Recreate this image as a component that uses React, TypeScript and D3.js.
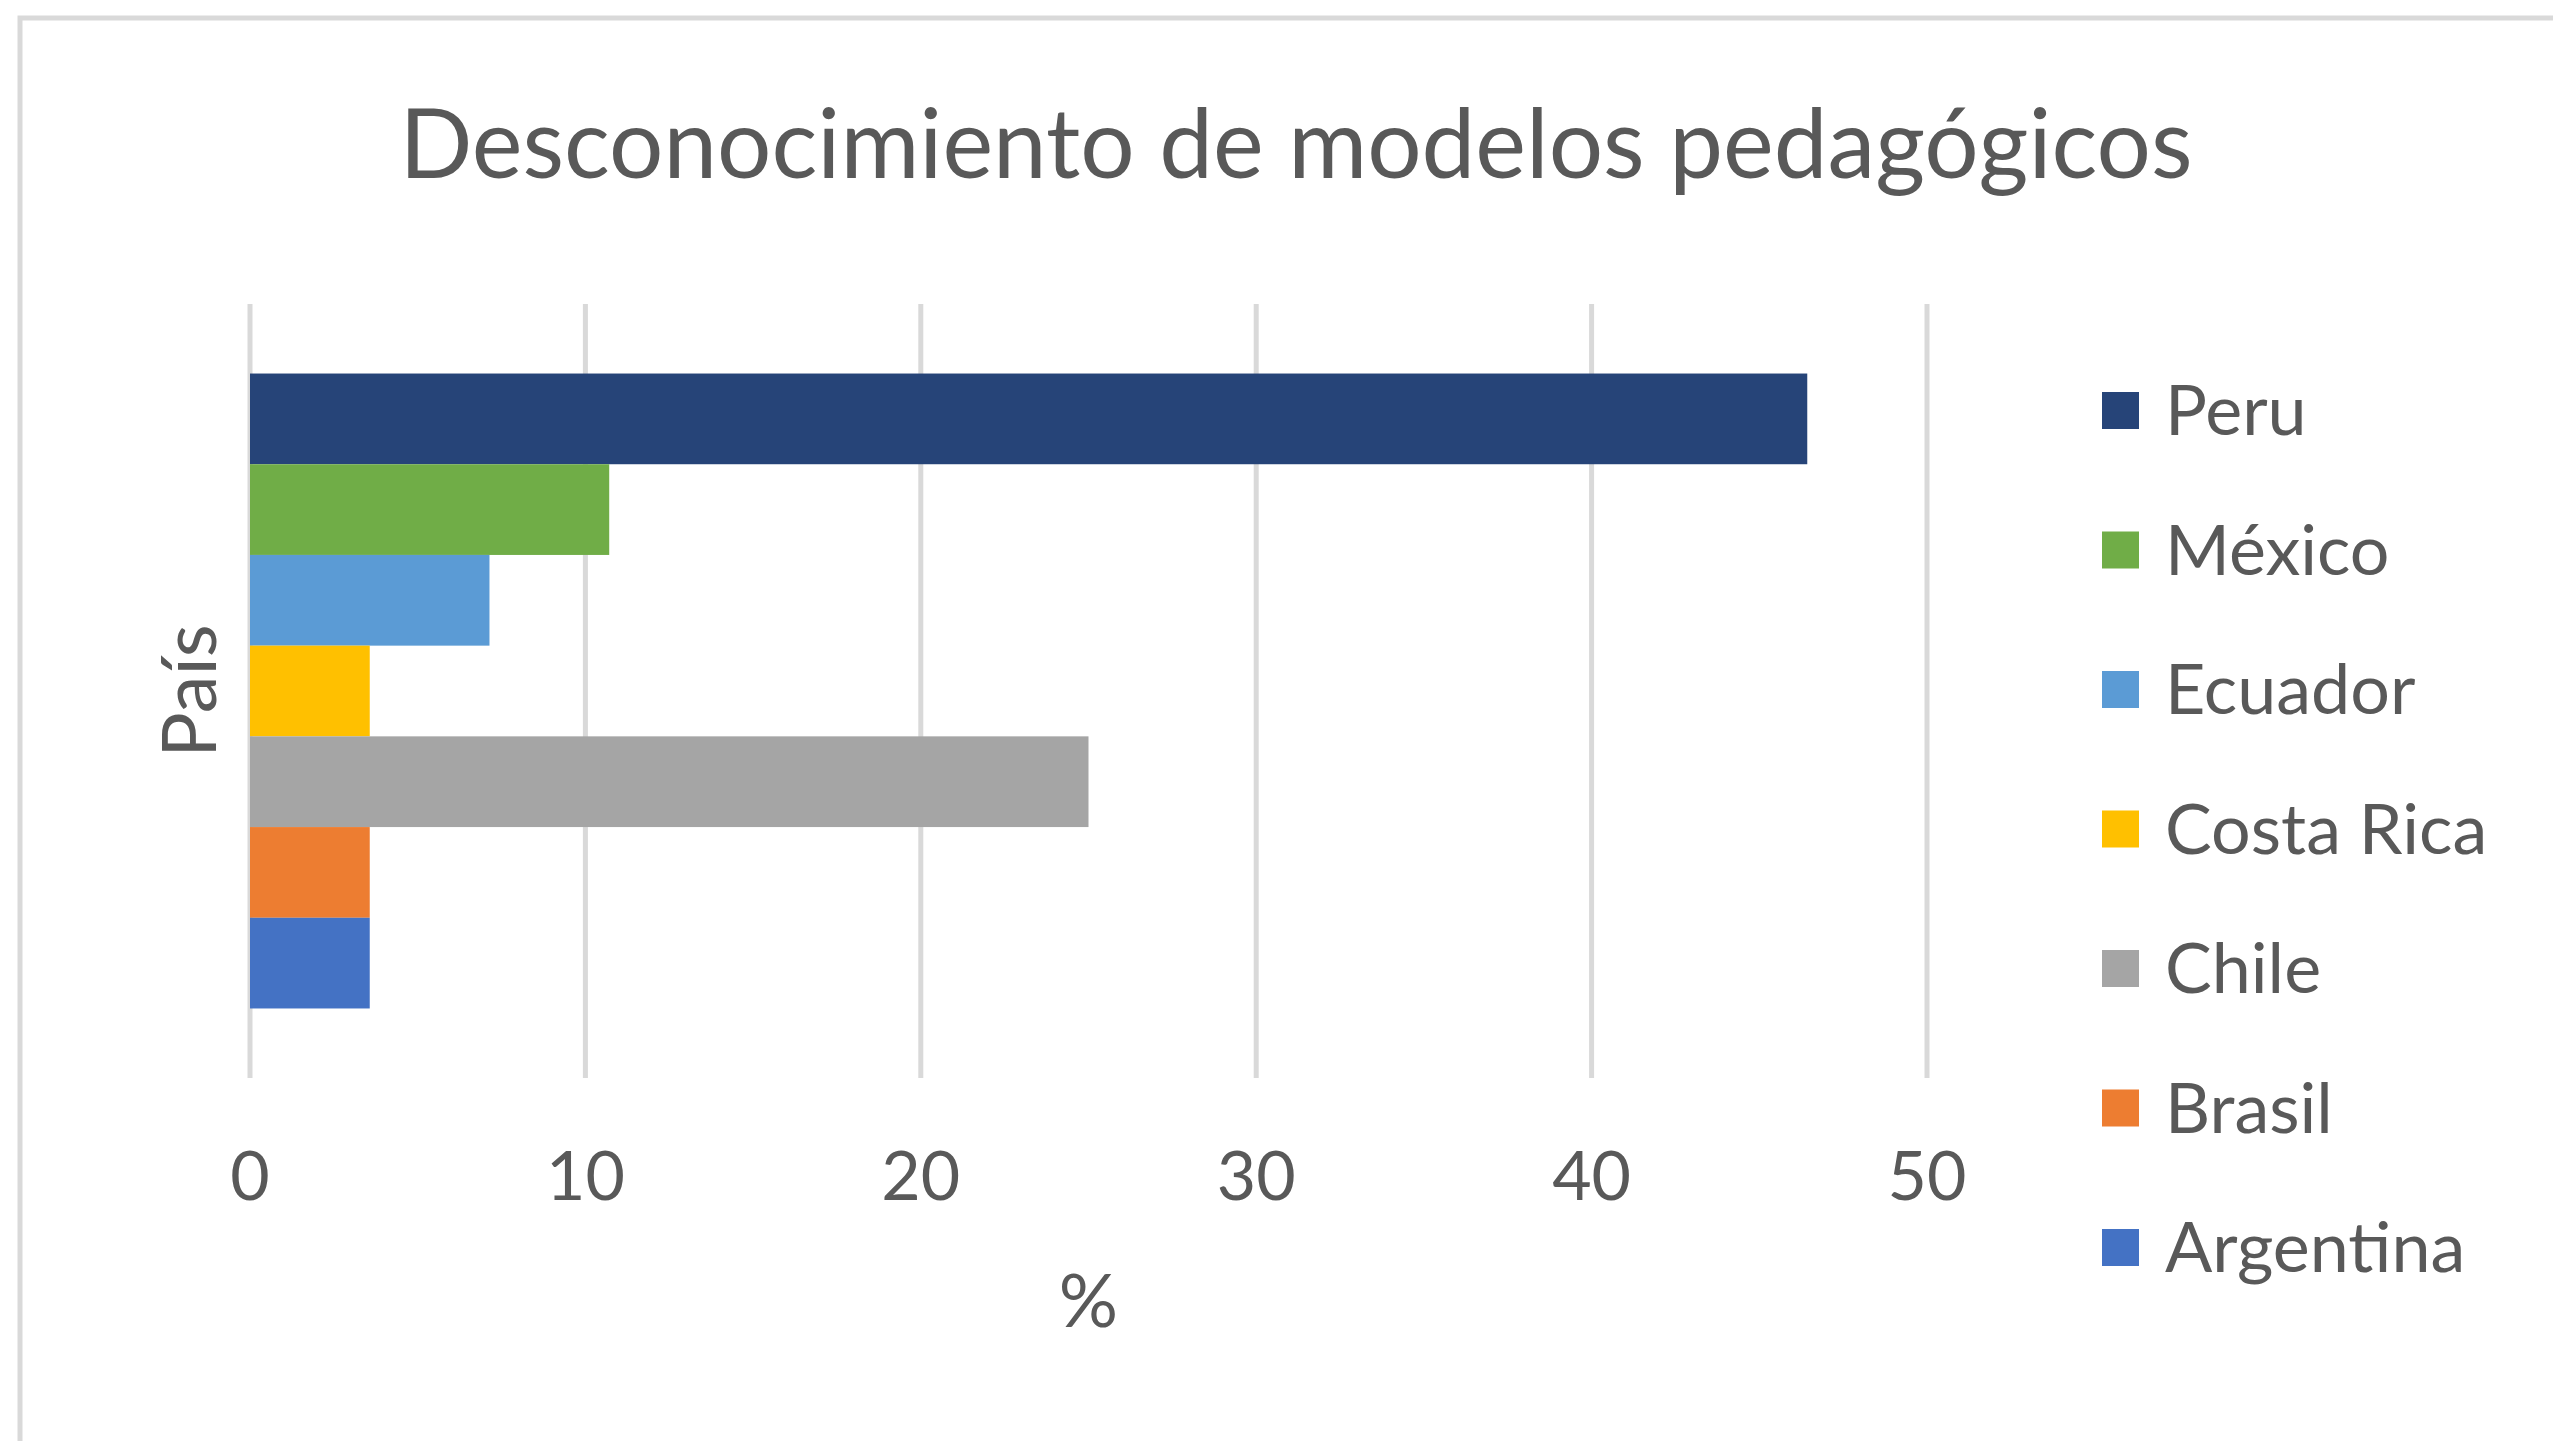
import React from 'react'
import * as d3 from 'd3'

const [WIDTH, HEIGHT] = [2553, 1441]
const FONT = "Lato, 'Noto Sans', sans-serif"
const TEXT_COLOR = '#595959'

const title = 'Desconocimiento de modelos pedagógicos'
const yTitle = 'País'
const xTitle = '%'

// series as drawn, top to bottom (and the legend order)
const countries = ['Peru', 'México', 'Ecuador', 'Costa Rica', 'Chile', 'Brasil', 'Argentina']
const percents = [46.43, 10.71, 7.14, 3.57, 25.0, 3.57, 3.57]
const colors = ['#264478', '#70ad47', '#5b9bd5', '#ffc000', '#a5a5a5', '#ed7d31', '#4472c4']
const xTicks = [0, 10, 20, 30, 40, 50]

const plot = { left: 250, right: 1927, top: 304, bottom: 1078 }

export default function App() {
  const xScale = d3.scaleLinear().domain([0, 50]).range([plot.left, plot.right])

  // one category, Excel style gap around the group of bars
  const catScale = d3.scaleBand<string>()
    .domain([yTitle])
    .range([plot.top, plot.bottom])
    .paddingInner(0)
    .paddingOuter(0.1095)
  const barScale = d3.scaleBand<string>()
    .domain(countries)
    .range([catScale(yTitle)!, catScale(yTitle)! + catScale.bandwidth()])

  const legendScale = d3.scalePoint<string>()
    .domain(countries)
    .range([410, 1247])

  const colorOf = d3.scaleOrdinal<string, string>().domain(countries).range(colors)

  return (
    <svg width={WIDTH} height={HEIGHT} style={{ position: 'absolute', left: 0, top: 0, background: '#fff' }}
      fontFamily={FONT}>
      <rect x={20} y={18} width={WIDTH + 40} height={HEIGHT + 40} fill="#fff" stroke="#d9d9d9" strokeWidth={5} />

      <text x={1296} y={178} textAnchor="middle" fontSize={96} fill={TEXT_COLOR}>{title}</text>

      {/* gridlines */}
      {xTicks.map(t => (
        <line key={t} x1={xScale(t)} x2={xScale(t)} y1={plot.top} y2={plot.bottom}
          stroke="#d9d9d9" strokeWidth={5} />
      ))}

      {/* bars */}
      {countries.map((c, i) => (
        <rect key={c} x={xScale(0)} y={barScale(c)} width={xScale(percents[i]) - xScale(0)}
          height={barScale.bandwidth()} fill={colorOf(c)} />
      ))}

      {/* tick labels */}
      {xTicks.map(t => (
        <text key={t} x={xScale(t)} y={1200} textAnchor="middle" fontSize={68} fill={TEXT_COLOR}>{t}</text>
      ))}

      <text x={(plot.left + plot.right) / 2} y={1327} textAnchor="middle" fontSize={74} fill={TEXT_COLOR}>{xTitle}</text>
      <text transform={`translate(216, ${(plot.top + plot.bottom) / 2}) rotate(-90)`} textAnchor="middle"
        fontSize={76} fill={TEXT_COLOR}>{yTitle}</text>

      {/* legend */}
      {countries.map(c => (
        <g key={c} transform={`translate(2102, ${legendScale(c)})`}>
          <rect x={0} y={-18} width={37} height={37} fill={colorOf(c)} />
          <text x={63} y={25} fontSize={70} fill={TEXT_COLOR}>{c}</text>
        </g>
      ))}
    </svg>
  )
}
